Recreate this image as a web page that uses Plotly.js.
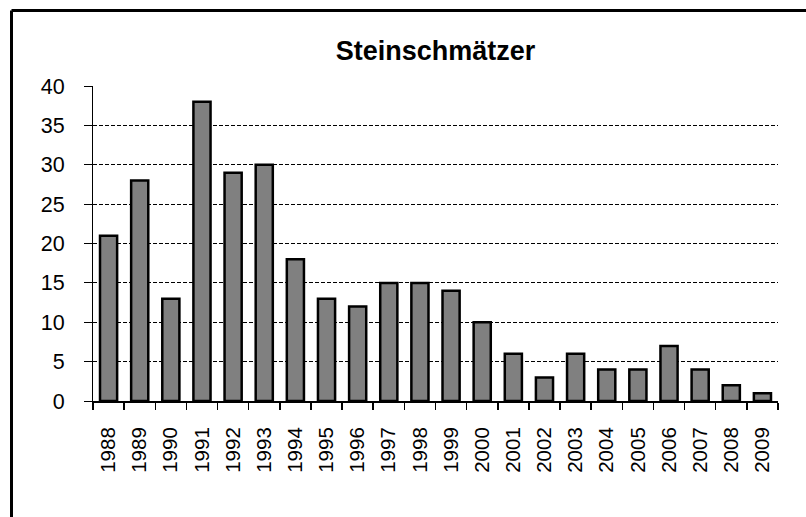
<!DOCTYPE html>
<html><head><meta charset="utf-8">
<script src="https://cdn.plot.ly/plotly-3.0.1.min.js"></script>
<style>html,body{margin:0;padding:0;background:#fff}#chart{width:806px;height:517px}</style>
</head><body><div id="chart"></div>
<script>
const years = ["1988","1989","1990","1991","1992","1993","1994","1995","1996","1997","1998","1999","2000","2001","2002","2003","2004","2005","2006","2007","2008","2009"];
const counts = [21,28,13,38,29,30,18,13,12,15,15,14,10,6,3,6,4,4,7,4,2,1];
const titleText = "Steinschmätzer";

const bx0 = -81.5/685, by1 = 1 + 75.5/315;
Plotly.newPlot('chart', [{
  type: 'bar', x: years, y: counts,
  marker: {color: '#808080', line: {color: '#000', width: 2.5}},
  hoverinfo: 'none'
}], {
  width: 806, height: 517,
  margin: {l: 93, r: 28, t: 86, b: 116},
  paper_bgcolor: '#fff', plot_bgcolor: '#fff',
  font: {family: 'Liberation Sans, Arial, sans-serif', color: '#000', size: 20},
  title: {text: '<b>' + titleText + '</b>', xref: 'paper', x: 0.5, xanchor: 'center', y: 0.903, yanchor: 'middle', font: {size: 27}},
  bargap: 0.45,
  showlegend: false,
  xaxis: {
    type: 'category', tickangle: -90, tickson: 'boundaries', ticks: 'outside', ticklen: 7, tickwidth: 1.5, tickcolor: '#000',
    showline: true, linecolor: '#000', linewidth: 2, showgrid: false, zeroline: false,
    tickfont: {size: 20.5}, ticklabelstandoff: 16, automargin: false
  },
  yaxis: {
    range: [0, 40], dtick: 5, ticks: 'outside', ticklen: 8, tickcolor: '#000', tickwidth: 1,
    showline: true, linecolor: '#000', linewidth: 1,
    showgrid: true, gridcolor: '#000', gridwidth: 1, griddash: '4px,2px',
    zeroline: false, tickfont: {size: 21.5}, ticklabelstandoff: 15, automargin: false
  },
  shapes: [
    {type: 'line', xref: 'paper', yref: 'paper', x0: bx0, x1: 1.2, y0: by1, y1: by1, line: {color: '#000', width: 3}, layer: 'above'},
    {type: 'line', xref: 'paper', yref: 'paper', x0: bx0, x1: bx0, y0: by1, y1: -0.5, line: {color: '#000', width: 3}, layer: 'above'}
  ]
}, {staticPlot: true});
</script></body></html>
